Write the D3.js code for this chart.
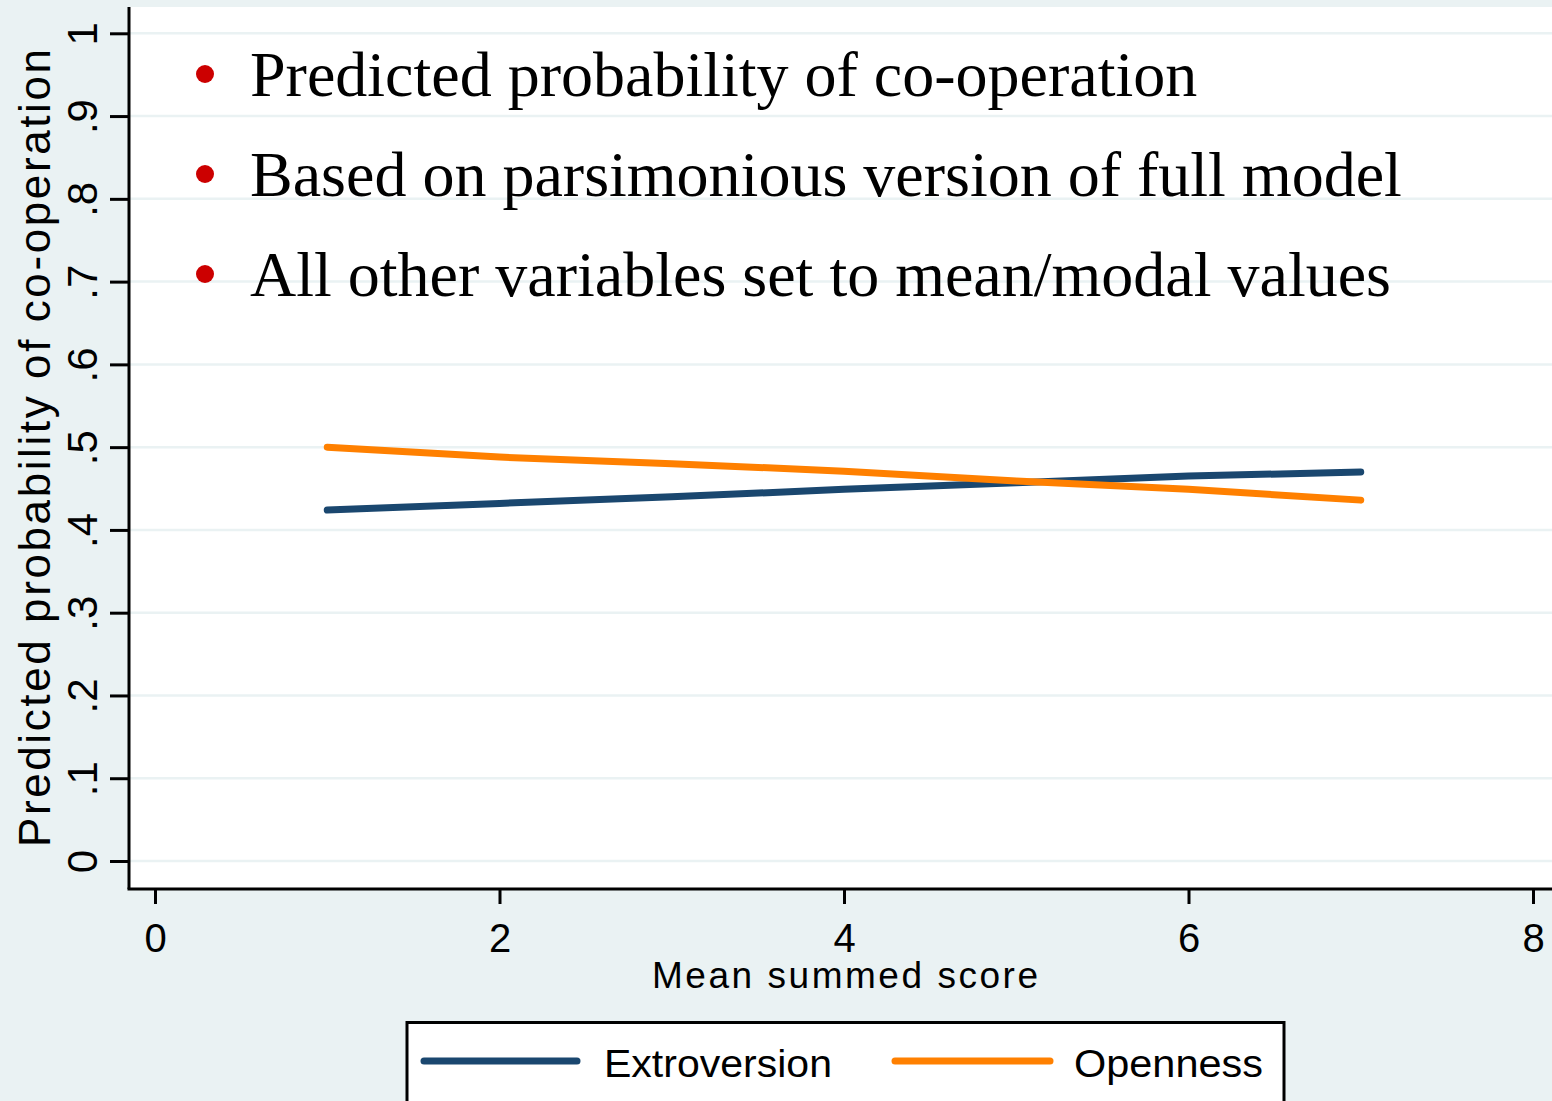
<!DOCTYPE html>
<html>
<head>
<meta charset="utf-8">
<script src="https://cdn.jsdelivr.net/npm/d3@7"></script>
<style>
  html, body { margin: 0; padding: 0; background: #eaf2f3; }
</style>
</head>
<body>
<div id="chart"></div>
<script>
// x values (mean summed score)
const scores = [1, 2, 3, 4, 5, 6, 7];
// predicted probabilities
const extroversion = [0.424, 0.432, 0.440, 0.449, 0.457, 0.465, 0.470];
const openness = [0.500, 0.488, 0.480, 0.471, 0.459, 0.449, 0.436];
const seriesNames = ["Extroversion", "Openness"];
const seriesColors = ["#1a476f", "#ff8000"];
const xTicks = [0, 2, 4, 6, 8];
const yTicks = [0, 0.1, 0.2, 0.3, 0.4, 0.5, 0.6, 0.7, 0.8, 0.9, 1];
const yTickLabels = ["0", ".1", ".2", ".3", ".4", ".5", ".6", ".7", ".8", ".9", "1"];
const notes = [
  "Predicted probability of co-operation",
  "Based on parsimonious version of full model",
  "All other variables set to mean/modal values"
];

window.onload = function () {
  const width = 1552;
  const height = 1101;
  const sans = "'Liberation Sans', Arial, sans-serif";
  const serif = "'Liberation Serif', 'Times New Roman', serif";

  const svg = d3.select("#chart")
    .append("svg")
    .attr("width", width)
    .attr("height", height)
    .style("display", "block");

  svg.append("rect")
    .attr("width", width)
    .attr("height", height)
    .attr("fill", "#eaf2f3");

  // plot region
  const plotLeft = 129, plotTop = 7, plotRight = 1552, plotBottom = 889;
  svg.append("rect")
    .attr("x", plotLeft)
    .attr("y", plotTop)
    .attr("width", plotRight - plotLeft)
    .attr("height", plotBottom - plotTop)
    .attr("fill", "#fff");

  const x = d3.scaleLinear().domain([0, 8]).range([155, 1533]);
  const y = d3.scaleLinear().domain([0, 1]).range([861, 33.3]);

  // gridlines
  svg.append("g")
    .selectAll("line")
    .data(yTicks)
    .join("line")
    .attr("x1", plotLeft)
    .attr("x2", plotRight)
    .attr("y1", (d) => y(d))
    .attr("y2", (d) => y(d))
    .attr("stroke", "#eaf2f3")
    .attr("stroke-width", 2.5);

  // y axis
  const yAxis = svg.append("g")
    .attr("transform", `translate(${plotLeft},0)`)
    .call(d3.axisLeft(y).tickValues(yTicks).tickSize(19).tickFormat((d, i) => yTickLabels[i]));
  yAxis.select(".domain")
    .attr("d", `M0,${plotTop}V${plotBottom}`)
    .attr("stroke", "#000")
    .attr("stroke-width", 3);
  yAxis.selectAll(".tick line").attr("stroke", "#000").attr("stroke-width", 3);
  yAxis.selectAll(".tick text")
    .attr("x", null)
    .attr("dy", null)
    .attr("transform", "translate(-32,0) rotate(-90)")
    .attr("text-anchor", "middle")
    .attr("fill", "#000")
    .style("font-family", sans)
    .style("font-size", "42px");

  // x axis
  const xAxis = svg.append("g")
    .attr("transform", `translate(0,${plotBottom})`)
    .call(d3.axisBottom(x).tickValues(xTicks).tickSize(15).tickFormat(d3.format("d")));
  xAxis.select(".domain")
    .attr("d", `M${plotLeft - 1.5},0H${plotRight}`)
    .attr("stroke", "#000")
    .attr("stroke-width", 3);
  xAxis.selectAll(".tick line").attr("stroke", "#000").attr("stroke-width", 3);
  xAxis.selectAll(".tick text")
    .attr("y", 63)
    .attr("dy", null)
    .attr("fill", "#000")
    .style("font-family", sans)
    .style("font-size", "40px");

  // axis titles
  svg.append("text")
    .attr("transform", "translate(50,448) rotate(-90)")
    .attr("text-anchor", "middle")
    .attr("textLength", 798)
    .attr("lengthAdjust", "spacing")
    .style("font-family", sans)
    .style("font-size", "44px")
    .text("Predicted probability of co-operation");

  svg.append("text")
    .attr("x", 845)
    .attr("y", 988)
    .attr("text-anchor", "middle")
    .attr("textLength", 386)
    .attr("lengthAdjust", "spacing")
    .style("font-family", sans)
    .style("font-size", "37px")
    .text("Mean summed score");

  // lines
  const line = d3.line()
    .x((d) => x(d[0]))
    .y((d) => y(d[1]));
  [extroversion, openness].forEach((vals, i) => {
    svg.append("path")
      .datum(scores.map((s, j) => [s, vals[j]]))
      .attr("d", line)
      .attr("fill", "none")
      .attr("stroke", seriesColors[i])
      .attr("stroke-width", 7)
      .attr("stroke-linecap", "round")
      .attr("stroke-linejoin", "round");
  });

  // notes with red bullets
  const noteG = svg.append("g");
  notes.forEach((t, i) => {
    const base = 96 + i * 100;
    noteG.append("circle")
      .attr("cx", 205)
      .attr("cy", base - 22)
      .attr("r", 9)
      .attr("fill", "#cc0000");
    noteG.append("text")
      .attr("x", 250)
      .attr("y", base)
      .style("font-family", serif)
      .style("font-size", "64px")
      .attr("fill", "#000")
      .text(t);
  });

  // legend
  const legend = svg.append("g");
  legend.append("rect")
    .attr("x", 407)
    .attr("y", 1022.5)
    .attr("width", 877)
    .attr("height", 100)
    .attr("fill", "#fff")
    .attr("stroke", "#000")
    .attr("stroke-width", 3);
  const legItems = [
    { x1: 424, x2: 577, tx: 604, tl: 228 },
    { x1: 895, x2: 1050, tx: 1074, tl: 189 }
  ];
  legItems.forEach((it, i) => {
    legend.append("line")
      .attr("x1", it.x1)
      .attr("x2", it.x2)
      .attr("y1", 1061)
      .attr("y2", 1061)
      .attr("stroke", seriesColors[i])
      .attr("stroke-width", 7)
      .attr("stroke-linecap", "round");
    legend.append("text")
      .attr("x", it.tx)
      .attr("y", 1077)
      .attr("textLength", it.tl)
      .attr("lengthAdjust", "spacingAndGlyphs")
      .style("font-family", sans)
      .style("font-size", "38px")
      .text(seriesNames[i]);
  });
};
</script>
</body>
</html>
